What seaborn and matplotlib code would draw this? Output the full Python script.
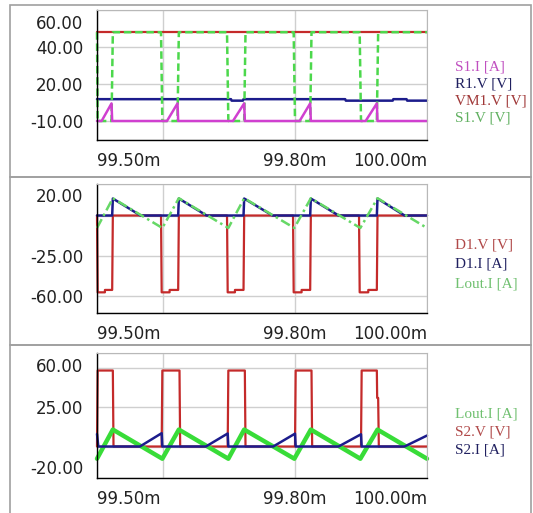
import numpy as np
import pandas as pd
import seaborn as sns
import matplotlib.pyplot as plt
from matplotlib.patches import Rectangle
from matplotlib.transforms import ScaledTranslation

# time in ms
# panel 1
s1v_t = [99.500, 99.501, 99.522, 99.524, 99.597, 99.599, 99.622, 99.624, 99.697, 99.699, 99.723,
         99.725, 99.798, 99.800, 99.823, 99.825, 99.898, 99.900, 99.924, 99.926, 100.000]
s1v_v = [48, 0, 0, 48, 48, 0, 0, 48, 48, 0, 0, 48, 48, 0, 0, 48, 48, 0, 0, 48, 48]
vm1v_t = [99.500, 100.000]
vm1v_v = [48, 48]
r1v_t = [99.500, 99.703, 99.704, 99.721, 99.722, 99.876, 99.877, 99.948, 99.949, 99.969, 99.970, 100.000]
r1v_v = [11.8, 11.8, 11.0, 11.0, 11.8, 11.8, 11.0, 11.0, 11.8, 11.8, 11.0, 11.0]
s1i_t = [99.500, 99.507, 99.522, 99.523, 99.606, 99.622, 99.623, 99.706, 99.723, 99.724, 99.807,
         99.823, 99.824, 99.907, 99.924, 99.925, 100.000]
s1i_v = [0, 0, 9.5, 0, 0, 9.5, 0, 0, 9.5, 0, 0, 9.5, 0, 0, 9.5, 0, 0]

# panel 2
d1v_t = [99.500, 99.501, 99.512, 99.512, 99.523, 99.524,
         99.597, 99.598, 99.610, 99.610, 99.623, 99.624,
         99.697, 99.698, 99.709, 99.709, 99.722, 99.723,
         99.797, 99.798, 99.810, 99.810, 99.823, 99.824,
         99.897, 99.898, 99.911, 99.911, 99.924, 99.925, 100.000]
d1v_v = [0, -48, -48, -46.5, -46.5, 0,
         0, -48, -48, -46.5, -46.5, 0,
         0, -48, -48, -46.5, -46.5, 0,
         0, -48, -48, -46.5, -46.5, 0,
         0, -48, -48, -46.5, -46.5, 0, 0]
d1i_t = [99.500, 99.523, 99.524, 99.566, 99.623, 99.624, 99.666, 99.722, 99.723, 99.766,
         99.823, 99.824, 99.866, 99.924, 99.925, 99.966, 100.000]
d1i_v = [0, 0, 10.6, 0, 0, 10.6, 0, 0, 10.6, 0, 0, 10.6, 0, 0, 10.6, 0, 0]
lout_t = [99.500, 99.524, 99.599, 99.624, 99.699, 99.723, 99.799, 99.824, 99.899, 99.925, 100.000]
lout_v = [-7.8, 10.8, -7.8, 10.8, -7.8, 10.8, -7.8, 10.8, -7.8, 10.8, -7.8]

# panel 3
s2v_t = [99.500, 99.501, 99.524, 99.525,
         99.598, 99.599, 99.625, 99.626,
         99.698, 99.699, 99.724, 99.725,
         99.800, 99.801, 99.825, 99.826,
         99.900, 99.901, 99.924, 99.9245, 99.926, 99.927, 100.000]
s2v_v = [0, 48.5, 48.5, 0, 0, 48.5, 48.5, 0, 0, 48.5, 48.5, 0, 0, 48.5, 48.5, 0,
         0, 48.5, 48.5, 31, 31, 0, 0]
s2i_t = [99.500, 99.502, 99.565, 99.598, 99.599, 99.665, 99.698, 99.699, 99.767, 99.800,
         99.801, 99.866, 99.900, 99.901, 99.966, 100.000]
s2i_v = [8.0, 0, 0, 8.5, 0, 0, 8.3, 0, 0, 8.2, 0, 0, 7.8, 0, 0, 7.0]

x_ticks = [99.5, 99.6, 99.8, 100.0]
x_labels = ['99.50m', '', '99.80m', '100.00m']

p1_yticks = [60, 40, 20, 0, -10]
p1_ylabels = ['60.00', '40.00', '20.00', '-10.00', '']
p2_yticks = [20, 0, -25, -50, -60.6]
p2_ylabels = ['20.00', '', '-25.00', '-60.00', '']
p3_yticks = [60, 50, 25, 0, -20.1]
p3_ylabels = ['60.00', '', '25.00', '', '-20.00']

p1_names = ['S1.I [A]', 'R1.V [V]', 'VM1.V [V]', 'S1.V [V]']
p2_names = ['D1.V [V]', 'D1.I [A]', 'Lout.I [A]']
p3_names = ['Lout.I [A]', 'S2.V [V]', 'S2.I [A]']

RED = '#c42a2a'
BLUE = '#1c1c8c'
GREEN = '#4cd84c'
PINK = '#d040d0'

sns.set_style("white")
plt.rcParams['font.family'] = ['DejaVu Sans']

W, H = 533, 513
fig = plt.figure(figsize=(W / 100, H / 100), dpi=100)


def px_axes(left, top, right, bottom):
    return fig.add_axes([left / W, 1 - bottom / H, (right - left) / W, (bottom - top) / H])


# panel frames
for top, bot in [(5, 177), (177, 345), (345, 515)]:
    fig.add_artist(Rectangle((10 / W, 1 - bot / H), 521 / W, (bot - top) / H, transform=fig.transFigure,
                             fill=False, edgecolor='#a0a0a0', lw=1.2))


def style(ax, ylim, yticks, ylabels, shift_top=True, shift_bottom=False):
    ax.set_xlim(99.5, 100.0)
    ax.set_ylim(*ylim)
    ax.set_xticks(x_ticks)
    ax.set_xticklabels(x_labels)
    ax.set_yticks(yticks)
    ax.set_yticklabels(ylabels)
    ax.set_xlabel('')
    ax.set_ylabel('')
    ax.grid(True, color='#cfcfcf', lw=1)
    ax.set_axisbelow(True)
    for s in ['top', 'right']:
        ax.spines[s].set_color('#b8b8b8')
    for s in ['left', 'bottom']:
        ax.spines[s].set_color('black')
        ax.spines[s].set_linewidth(1)
    ax.tick_params(axis='y', length=8, width=1, pad=2, labelsize=12, labelcolor='#222222')
    ax.tick_params(axis='x', length=7, width=1, pad=2, labelsize=12, labelcolor='#222222')
    xl = ax.get_xticklabels()
    xl[0].set_ha('left')
    xl[-1].set_ha('right')
    yl = ax.get_yticklabels()
    if shift_top:
        yl[0].set_transform(yl[0].get_transform() + ScaledTranslation(0, -0.12, fig.dpi_scale_trans))
    if shift_bottom:
        yl[-1].set_transform(yl[-1].get_transform() + ScaledTranslation(0, 0.115, fig.dpi_scale_trans))
    for ln in ax.lines:
        ln.set_clip_on(False)


def legend(names, colors, ys):
    for n, c, y in zip(names, colors, ys):
        fig.text(455 / W, 1 - y / H, n, color=c, fontsize=11, family='Liberation Serif', va='center', ha='left')


# panel 1
ax1 = px_axes(97, 10, 427, 139.5)
sns.lineplot(x=vm1v_t, y=vm1v_v, ax=ax1, color=RED, lw=1.6, estimator=None, sort=False)
sns.lineplot(x=r1v_t, y=r1v_v, ax=ax1, color=BLUE, lw=1.8, estimator=None, sort=False)
sns.lineplot(x=s1v_t, y=s1v_v, ax=ax1, color=GREEN, lw=1.8, linestyle=(0, (3, 1.5)), estimator=None, sort=False)
sns.lineplot(x=s1i_t, y=s1i_v, ax=ax1, color=PINK, lw=1.8, estimator=None, sort=False)
style(ax1, (-10, 60), p1_yticks, p1_ylabels)
legend(p1_names, ['#c050c0', '#202060', '#a03838', '#60b060'], [67, 84, 101, 118])

# panel 2
ax2 = px_axes(97, 183.5, 427, 312.5)
sns.lineplot(x=d1v_t, y=d1v_v, ax=ax2, color=RED, lw=1.6, estimator=None, sort=False)
sns.lineplot(x=d1i_t, y=d1i_v, ax=ax2, color=BLUE, lw=1.8, estimator=None, sort=False)
sns.lineplot(x=lout_t, y=lout_v, ax=ax2, color='#66d866', lw=1.8, linestyle=(0, (4, 1.5, 1, 1.5)),
             estimator=None, sort=False)
style(ax2, (-60.6, 20), p2_yticks, p2_ylabels)
legend(p2_names, ['#b04848', '#202060', '#70c070'], [245, 264.5, 284])

# panel 3
ax3 = px_axes(97, 352.5, 427, 478)
sns.lineplot(x=s2v_t, y=s2v_v, ax=ax3, color=RED, lw=1.6, estimator=None, sort=False)
sns.lineplot(x=lout_t, y=lout_v, ax=ax3, color='#38dc38', lw=3.2, estimator=None, sort=False)
sns.lineplot(x=s2i_t, y=s2i_v, ax=ax3, color=BLUE, lw=1.8, estimator=None, sort=False)
style(ax3, (-20.1, 60), p3_yticks, p3_ylabels, shift_bottom=True)
legend(p3_names, ['#70c070', '#b04848', '#202060'], [414, 432, 450])

fig.savefig('out.png', dpi=100)
